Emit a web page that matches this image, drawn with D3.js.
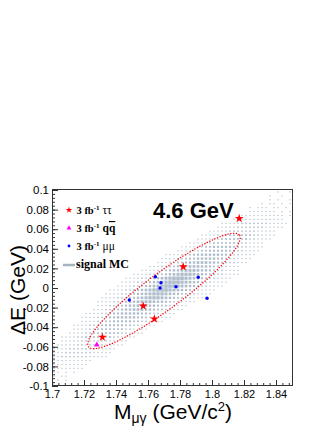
<!DOCTYPE html>
<html><head><meta charset="utf-8">
<script src="https://cdn.jsdelivr.net/npm/d3@7"></script>
<style>body{margin:0;background:#fff}svg{display:block}</style>
</head><body><svg id="c" width="332" height="430"></svg>
<script>
// ---- data ----
const xDomain = [1.7, 1.85];
const yDomain = [-0.1, 0.1];
const xTicks = [1.7, 1.72, 1.74, 1.76, 1.78, 1.8, 1.82, 1.84];
const xTickLabels = ["1.7", "1.72", "1.74", "1.76", "1.78", "1.8", "1.82", "1.84"];
const yTicks = [-0.1, -0.08, -0.06, -0.04, -0.02, 0, 0.02, 0.04, 0.06, 0.08, 0.1];
const yTickLabels = ["-0.1", "-0.08", "-0.06", "-0.04", "-0.02", "0", "0.02", "0.04", "0.06", "0.08", "0.1"];

const tautauM  = [1.817, 1.782, 1.757, 1.764, 1.7315];
const tautauDE = [0.071, 0.0218, -0.0184, -0.0316, -0.0503];
const qqM  = [1.728];
const qqDE = [-0.058];
const mumuM  = [1.7483, 1.7646, 1.7681, 1.7675, 1.7775, 1.7914, 1.7969];
const mumuDE = [-0.0122, 0.0115, 0.0054, 0.0, 0.0013, 0.0109, -0.0105];

const ellipseCenter = [1.770, -0.003];
const ellipseMajor  = [0.0472, 0.0570];
const ellipseMinor  = [0.0067, -0.0148];

// signal MC 2D histogram: 60 x-bins, 50 y-bins (rows from top); [first column, box sizes 0-9]
const signalBinsX = 60, signalBinsY = 50;
const signalRows = [
  [55, "01001"],
  [53, "0100100"],
  [52, "00101001"],
  [51, "010110101"],
  [49, "10111011010"],
  [48, "011111110101"],
  [47, "1111111111101"],
  [45, "1111111111111"],
  [42, "11111222222211111"],
  [41, "11111222222211111"],
  [39, "11111222222211111"],
  [37, "1111223333333221111"],
  [36, "1111223333333221111"],
  [34, "1111223333333221111"],
  [32, "111122334444433221111"],
  [31, "111122334444433221111"],
  [28, "11112234455555443221111"],
  [27, "11112234455555443221111"],
  [26, "11122334556665543322111"],
  [24, "11122334556665543322111"],
  [22, "1111223455677765543221111"],
  [20, "111122334567888765433221111"],
  [18, "111122345678999876543221111"],
  [17, "111122345678999876543221111"],
  [16, "111122345678999876543221111"],
  [14, "111122345678999876543221111"],
  [13, "111122334567888765433221111"],
  [12, "111122334567888765433221111"],
  [11, "1111223455677765543221111"],
  [11, "11122334556665543322111"],
  [10, "11122334556665543322111"],
  [8,  "11112234455555443221111"],
  [7,  "11112234455555443221111"],
  [7,  "111122334444433221111"],
  [5,  "111122334444433221111"],
  [5,  "1111223333333221111"],
  [4,  "1111223333333221111"],
  [2,  "1111223333333221111"],
  [2,  "11111222222211111"],
  [1,  "11111222222211111"],
  [-1, "11111222222211111"],
  [-2, "11111222222211111"],
  [-3, "11111222222211111"],
  [-3, "1111111111111"],
  [-4, "1111111111111"],
  [-5, "1111111111111"],
  [0,  "110101"],
  [0,  "10110"],
  [0,  "0101"],
  [0,  "10"]
];

const legendPrefix = "3 fb";
const legendExp = "-1";
const legendChannels = ["ττ", "qq", "μμ"];
const legendSignal = "signal MC";
const energyLabel = "4.6 GeV";

// ---- drawing ----
const svg = d3.select("#c");
const x = d3.scaleLinear().domain(xDomain).range([52, 292]);
const y = d3.scaleLinear().domain(yDomain).range([386, 190]);

svg.append("defs").append("clipPath").attr("id", "clip")
  .append("rect").attr("x", 52).attr("y", 190).attr("width", 240).attr("height", 196);

// histogram boxes
const bx = (xDomain[1] - xDomain[0]) / signalBinsX;
const by = (yDomain[1] - yDomain[0]) / signalBinsY;
const bwPx = x(xDomain[0] + bx) - x(xDomain[0]);
const bhPx = y(yDomain[1] - by) - y(yDomain[1]);
const cells = [];
signalRows.forEach((r, j) => {
  const s = r[0], str = r[1];
  for (let k = 0; k < str.length; k++) {
    const d = +str[k], i = s + k;
    if (d > 0 && i >= 0 && i < signalBinsX) cells.push({ i, j, d });
  }
});
const hg = svg.append("g").attr("clip-path", "url(#clip)");
hg.selectAll("rect").data(cells).join("rect")
  .each(function (c) {
    const cx = x(xDomain[0] + bx * (c.i + 0.5));
    const cy = y(yDomain[1] - by * (c.j + 0.5));
    const f = 0.22 + 0.68 * c.d / 9;
    const w = bwPx * f, h = bhPx * f;
    d3.select(this).attr("x", cx - w / 2).attr("y", cy - h / 2).attr("width", w).attr("height", h);
  })
  .attr("fill", "#aebccb");

// ellipse
const ePts = d3.range(0, 361, 2).map(a => {
  const t = a * Math.PI / 180;
  return [ellipseCenter[0] + ellipseMajor[0] * Math.cos(t) + ellipseMinor[0] * Math.sin(t),
          ellipseCenter[1] + ellipseMajor[1] * Math.cos(t) + ellipseMinor[1] * Math.sin(t)];
});
svg.append("path")
  .attr("d", d3.line().x(d => x(d[0])).y(d => y(d[1]))(ePts))
  .attr("fill", "none").attr("stroke", "#ff0000").attr("stroke-width", 1.2)
  .attr("stroke-dasharray", "1.3 1.5");

// frame
svg.append("rect").attr("x", 52.5).attr("y", 189.5).attr("width", 240).attr("height", 196)
  .attr("fill", "none").attr("stroke", "#333").attr("stroke-width", 1);

// axes
const tickFont = "'Liberation Sans', Arial, Helvetica, sans-serif";
const xa = svg.append("g").attr("transform", "translate(0,386)")
  .call(d3.axisBottom(x).tickValues(xTicks).tickFormat((d, i) => xTickLabels[i])
    .tickSizeInner(-6).tickSizeOuter(0).tickPadding(4));
xa.select(".domain").remove();
svg.append("g").attr("transform", "translate(0,386)")
  .call(d3.axisBottom(x).tickValues(d3.range(0, 38).map(k => 1.7 + k * 0.004)).tickFormat("")
    .tickSizeInner(-3).tickSizeOuter(0))
  .select(".domain").remove();
const ya = svg.append("g").attr("transform", "translate(52,0)")
  .call(d3.axisLeft(y).tickValues(yTicks).tickFormat((d, i) => yTickLabels[i])
    .tickSizeInner(-6).tickSizeOuter(0).tickPadding(3));
ya.select(".domain").remove();
svg.append("g").attr("transform", "translate(52,0)")
  .call(d3.axisLeft(y).tickValues(d3.range(0, 51).map(k => -0.1 + k * 0.004)).tickFormat("")
    .tickSizeInner(-3).tickSizeOuter(0))
  .select(".domain").remove();
svg.selectAll(".tick line").attr("stroke", "#333");
svg.selectAll(".tick text").attr("font-family", tickFont).attr("font-size", 11.5).attr("fill", "#000");
xa.selectAll(".tick text").attr("font-size", 11);

// data markers
const star = d3.symbol(d3.symbolStar, 24)();
const tri = d3.symbol(d3.symbolTriangle, 14)();
svg.append("g").selectAll("path").data(tautauM.map((m, i) => [m, tautauDE[i]])).join("path")
  .attr("transform", d => `translate(${x(d[0])},${y(d[1])})`).attr("d", star).attr("fill", "#ff0000");
svg.append("g").selectAll("path").data(qqM.map((m, i) => [m, qqDE[i]])).join("path")
  .attr("transform", d => `translate(${x(d[0])},${y(d[1])})`).attr("d", tri).attr("fill", "#ff00ff");
svg.append("g").selectAll("circle").data(mumuM.map((m, i) => [m, mumuDE[i]])).join("circle")
  .attr("cx", d => x(d[0])).attr("cy", d => y(d[1])).attr("r", 1.7).attr("fill", "#0000ff");

// legend
const serif = "'Liberation Serif', 'Times New Roman', Times, serif";
const lgBase = [214, 232, 250];
const lgMarkers = [
  g => g.append("path").attr("d", d3.symbol(d3.symbolStar, 14)()).attr("fill", "#ff0000"),
  g => g.append("path").attr("d", d3.symbol(d3.symbolTriangle, 10)()).attr("fill", "#ff00ff"),
  g => g.append("circle").attr("r", 1.4).attr("fill", "#0000ff")
];
legendChannels.forEach((ch, i) => {
  const mg = svg.append("g").attr("transform", `translate(69,${lgBase[i] - 4})`);
  lgMarkers[i](mg);
  const g = svg.append("g").attr("font-family", serif).attr("fill", "#000");
  const p = g.append("text").attr("x", 76.5).attr("y", lgBase[i]).attr("font-size", 10.5)
    .attr("font-weight", "bold");
  p.append("tspan").text(legendPrefix);
  p.append("tspan").attr("font-size", 7).attr("dy", -4.5).text(legendExp);
  const t = g.append("text").attr("x", 102.5).attr("y", lgBase[i]).attr("font-size", 11.5);
  if (i === 1) {
    t.append("tspan").attr("font-weight", "bold").text(ch[0]);
    t.append("tspan").attr("font-weight", "bold").style("text-decoration", "overline").text(ch[1]);
  } else {
    t.text(ch);
  }
});
svg.append("line").attr("x1", 63).attr("x2", 75).attr("y1", 265).attr("y2", 265)
  .attr("stroke", "#a3b3c1").attr("stroke-width", 2.5);
svg.append("text").attr("x", 76).attr("y", 268).attr("font-family", serif)
  .attr("font-size", 12).attr("font-weight", "bold").text(legendSignal);

// energy label
svg.append("text").attr("x", 153).attr("y", 218)
  .attr("font-family", tickFont).attr("font-size", 22).attr("font-weight", "bold").text(energyLabel);

// axis titles
const xt = svg.append("text").attr("x", 114).attr("y", 419)
  .attr("font-family", tickFont).attr("font-size", 21);
xt.append("tspan").text("M");
xt.append("tspan").attr("font-size", 14).attr("dy", 4).text("μγ");
xt.append("tspan").attr("dy", -4).text(" (GeV/c");
xt.append("tspan").attr("font-size", 13).attr("dy", -8).text("2");
xt.append("tspan").attr("dy", 8).text(")");

svg.append("text").attr("transform", "translate(25,290) rotate(-90)")
  .attr("text-anchor", "middle").attr("font-family", tickFont).attr("font-size", 21)
  .text("ΔE (GeV)");
</script>
</body></html>
